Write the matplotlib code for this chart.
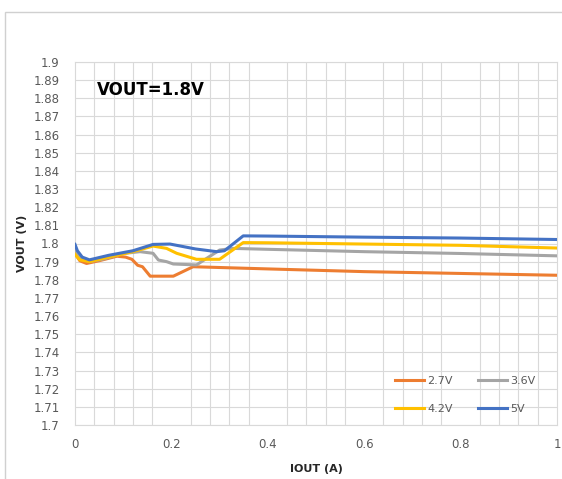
import matplotlib.pyplot as plt
from matplotlib.patches import Rectangle

# series (IOUT in A, VOUT in V)
x_27 = [0, 0.01, 0.024, 0.05, 0.087, 0.105, 0.118, 0.13, 0.14, 0.156, 0.18, 0.204, 0.245, 0.4, 0.6, 0.8, 1.0]
y_27 = [1.7945, 1.7905, 1.789, 1.7905, 1.793, 1.7925, 1.7913, 1.788, 1.7872, 1.782, 1.782, 1.782, 1.7872, 1.786, 1.7845, 1.7835, 1.7825]

x_36 = [0, 0.01, 0.03, 0.06, 0.1, 0.135, 0.15, 0.162, 0.173, 0.19, 0.204, 0.252, 0.30, 0.328, 0.4, 0.6, 0.8, 1.0]
y_36 = [1.7965, 1.792, 1.790, 1.7915, 1.7945, 1.7955, 1.795, 1.7946, 1.7909, 1.790, 1.7887, 1.7882, 1.7964, 1.7973, 1.7968, 1.7955, 1.7945, 1.7932]

x_42 = [0, 0.01, 0.03, 0.07, 0.12, 0.162, 0.19, 0.211, 0.252, 0.30, 0.349, 0.4, 0.6, 0.8, 1.0]
y_42 = [1.794, 1.791, 1.790, 1.7925, 1.7955, 1.7986, 1.7973, 1.7946, 1.7913, 1.7913, 1.8005, 1.8004, 1.7997, 1.799, 1.7975]

x_5 = [0, 0.005, 0.015, 0.03, 0.07, 0.12, 0.162, 0.197, 0.25, 0.294, 0.31, 0.349, 0.4, 0.6, 0.8, 1.0]
y_5 = [1.7995, 1.796, 1.7925, 1.791, 1.7935, 1.796, 1.7995, 1.7997, 1.797, 1.7955, 1.796, 1.8042, 1.8041, 1.8035, 1.803, 1.8022]

labels = ['2.7V', '3.6V', '4.2V', '5V']
colors = ['#ED7D31', '#A5A5A5', '#FFC000', '#4472C4']

yticks = [round(1.7 + 0.01*i, 2) for i in range(21)]
xticks = [0, 0.2, 0.4, 0.6, 0.8, 1]
xgrid = [0.04*i for i in range(26)]

fig = plt.figure(figsize=(5.62, 4.79), dpi=100)
W, H = 562, 479
# outer chart frame
fig.patches.append(Rectangle((5/W, -0.1), 1.2, 1 - 12/H + 0.1, transform=fig.transFigure,
                             fill=False, edgecolor='#D0D0D0', lw=1))

ax = fig.add_axes([75/W, (H-425)/H, (557-75)/W, (425-62)/H])

lines = {}
for xs, ys, lab, c in zip([x_27, x_36, x_42, x_5], [y_27, y_36, y_42, y_5], labels, colors):
    lines[lab], = ax.plot(xs, ys, color=c, lw=2.2, label=lab, zorder=3)

ax.set_xlim(0, 1)
ax.set_ylim(1.7, 1.9)
ax.set_yticks(yticks)
ax.set_yticklabels([('%g' % v) for v in yticks])
ax.set_xticks(xticks)
ax.set_xticklabels(['0', '0.2', '0.4', '0.6', '0.8', '1'])
ax.set_xticks(xgrid, minor=True)
ax.tick_params(which='both', length=0, colors='#595959', labelsize=8.5)
ax.tick_params(axis='x', pad=9)
ax.tick_params(axis='y', pad=11)
ax.grid(True, axis='y', color='#D9D9D9', lw=0.8)
ax.grid(True, axis='x', which='minor', color='#D9D9D9', lw=0.8)
for s in ax.spines.values():
    s.set_color('#D9D9D9')

ax.set_xlabel('IOUT (A)', fontsize=8, fontweight='bold', color='#262626', labelpad=10)
ax.set_ylabel('VOUT (V)', fontsize=8, fontweight='bold', color='#262626', labelpad=5)
ax.text(0.045, 0.923, 'VOUT=1.8V', transform=ax.transAxes, fontsize=12,
        fontweight='bold', color='black', va='center')

order = ['2.7V', '4.2V', '3.6V', '5V']
leg = ax.legend([lines[k] for k in order], order, ncol=2, loc='lower right',
                bbox_to_anchor=(0.977, 0.003), frameon=False, fontsize=8,
                handlelength=2.6, labelspacing=1.6, columnspacing=2.3, handletextpad=0.3)
for t in leg.get_texts():
    t.set_color('#595959')

fig.savefig('out.png', dpi=100)
